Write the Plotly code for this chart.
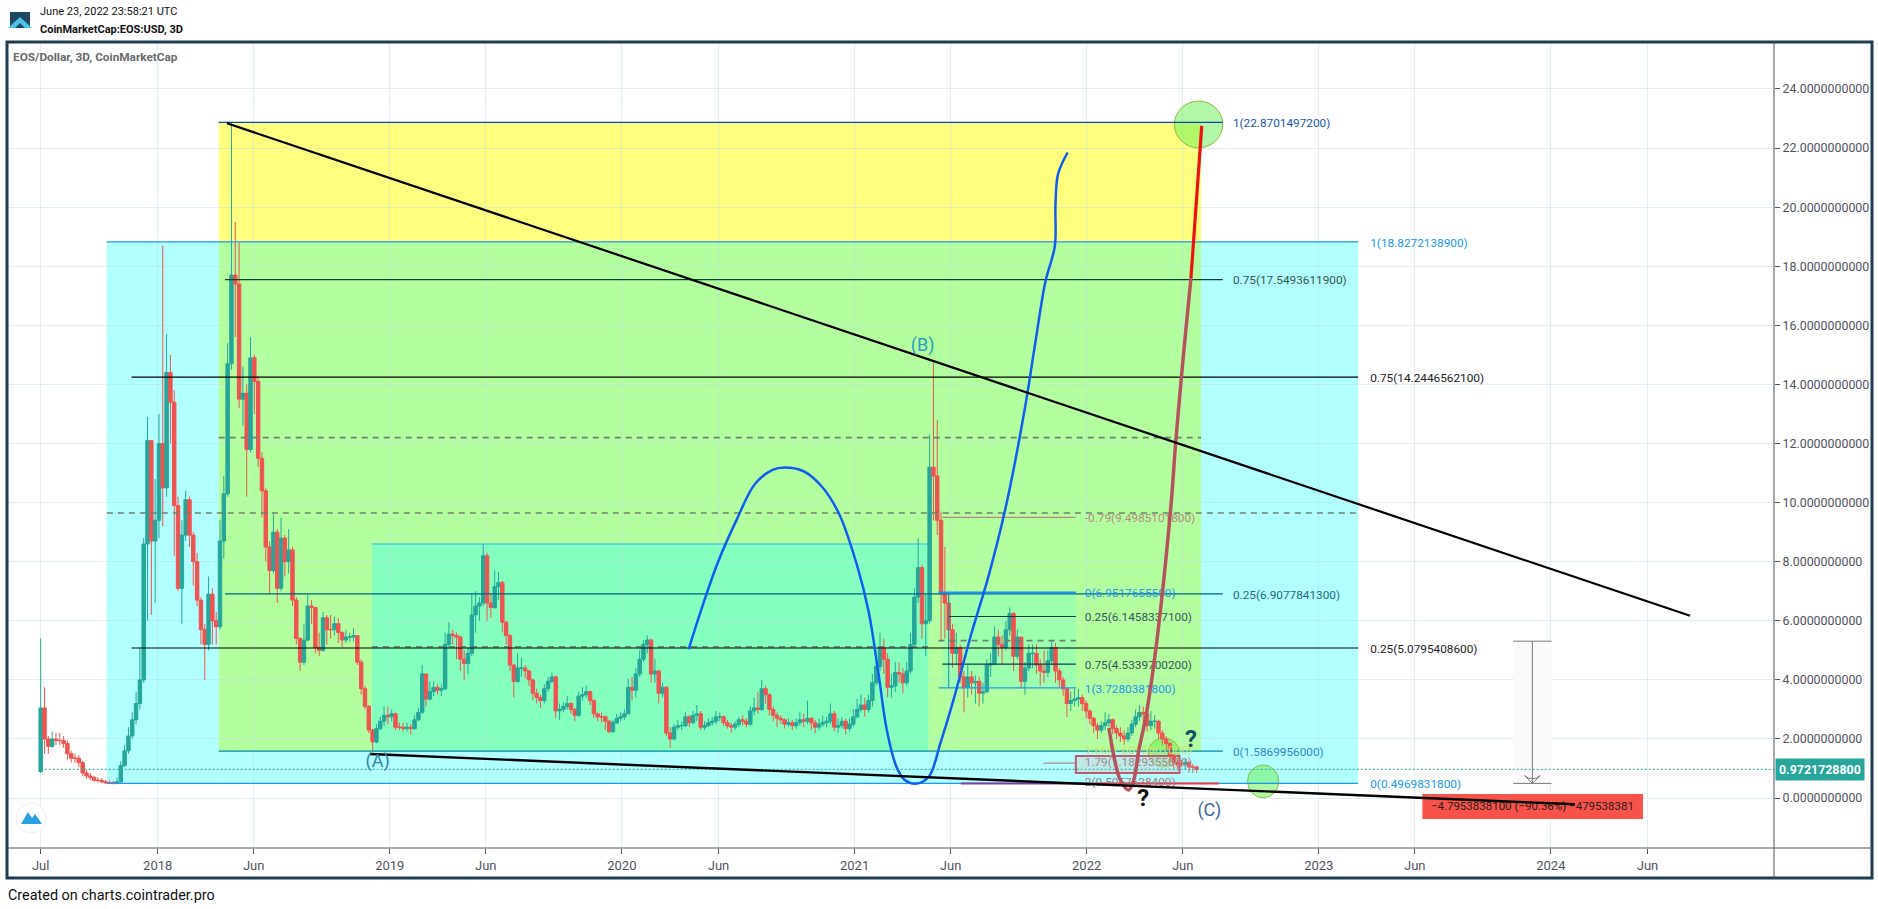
import pandas as pd
import plotly.graph_objects as go

# ---------- DATA ----------
closes = [3.05,2.0,1.75,2.0,1.95,1.95,1.85,1.5,1.35,1.35,
1.2,.85,.75,.7,.6,.6,.55,.52,.52,.5,
.55,1.1,1.6,2.1,2.65,3.2,4.0,8.6,12.1,8.7,
9.4,12.0,10.5,14.4,13.4,9.9,7.1,8.9,10.1,8.9,
8.0,6.7,5.7,5.2,6.9,6.0,5.8,8.7,10.3,14.7,
17.7,17.4,13.5,13.7,11.8,14.9,14.1,11.5,10.4,8.5,
7.7,9.0,7.1,8.8,8.0,8.4,6.7,5.4,4.6,5.35,
6.5,6.45,5.1,5.0,6.1,5.7,5.7,5.9,5.6,5.35,
5.45,5.45,5.5,4.6,3.7,3.1,2.3,1.9,2.35,2.6,
2.8,2.75,2.85,2.4,2.4,2.35,2.4,2.35,2.65,2.9,
4.2,3.35,3.6,3.75,3.65,3.7,5.2,5.55,5.5,5.45,
4.7,4.55,4.9,6.2,6.5,6.6,8.2,6.6,6.45,7.15,
7.3,5.95,5.5,4.5,3.95,4.4,4.4,4.3,4.0,3.55,
3.4,3.3,3.7,3.95,4.1,2.95,3.0,3.1,3.2,3.0,
2.8,3.45,3.5,3.6,3.3,2.85,2.75,2.75,2.6,2.25,
2.55,2.7,2.75,2.85,3.75,3.65,4.2,4.7,5.2,5.35,
4.2,4.3,3.55,3.75,2.2,2.0,2.4,2.45,2.45,2.75,
2.55,2.8,2.85,2.4,2.45,2.55,2.6,2.75,2.75,2.55,
2.45,2.4,2.5,2.65,2.6,2.5,2.95,3.05,3.0,3.7,
3.5,3.0,2.8,2.7,2.65,2.5,2.55,2.45,2.55,2.65,
2.6,2.7,2.55,2.4,2.5,2.55,2.6,2.85,2.4,2.45,
2.6,2.35,2.5,2.75,3.0,3.15,3.0,3.3,3.9,4.45,
5.1,4.7,3.75,3.8,4.25,4.2,3.9,4.3,5.2,6.8,
7.8,5.9,6.0,11.2,10.9,9.4,6.9,6.6,5.7,4.9,
5.1,4.1,3.75,4.1,3.9,3.95,3.55,3.6,4.5,4.55,
5.45,5.2,5.1,5.7,6.25,4.8,5.45,3.95,4.4,4.9,
4.9,4.5,4.3,4.25,4.65,5.1,4.3,4.0,3.7,3.2,
3.3,3.35,3.4,3.2,2.95,2.7,2.45,2.3,2.45,2.55,
2.65,2.35,2.2,2.1,2.0,2.2,2.5,2.75,2.9,2.85,
2.45,2.6,2.6,2.2,2.0,1.85,1.45,1.2,1.15,1.15,
1.2,1.05,1.05,.972]
highs = [5.4,3.75,2.1,2.25,2.2,2.2,2.1,1.95,1.6,1.5,
1.45,1.25,.95,.85,.75,.7,.68,.62,.6,.58,
.7,1.25,1.8,2.4,2.9,3.6,5.1,8.8,12.9,11.0,
10.8,13.0,18.7,15.7,15.0,13.8,10.2,9.4,10.4,10.2,
9.0,8.3,6.8,5.9,7.5,7.1,6.3,9.4,10.9,15.4,
22.87,19.5,18.8,14.6,14.0,15.6,15.0,14.3,11.7,10.5,
8.7,9.6,9.1,9.5,8.9,9.1,8.5,6.8,5.45,5.9,
6.9,6.7,6.45,5.6,6.3,6.2,6.2,6.15,6.1,5.65,
5.7,5.6,5.75,5.5,4.7,3.8,3.15,2.35,2.5,2.75,
3.1,3.1,3.0,2.9,2.55,2.55,2.55,2.5,2.8,3.05,
4.5,4.2,3.95,3.95,3.85,3.85,5.6,5.95,5.7,5.6,
5.5,5.0,5.1,6.9,7.0,6.8,8.6,8.3,6.9,7.7,
7.65,7.35,6.0,5.55,4.55,4.9,4.75,4.5,4.35,4.05,
3.7,3.5,3.85,4.1,4.25,4.15,3.2,3.25,3.45,3.25,
3.05,3.6,3.75,3.8,3.65,3.35,2.9,2.9,2.8,2.65,
2.65,2.85,2.9,3.0,4.05,4.1,4.4,5.0,5.35,5.5,
5.4,4.7,4.35,3.9,3.8,2.4,2.5,2.65,2.6,2.9,
2.8,2.95,3.15,2.95,2.6,2.7,2.75,2.95,2.9,2.8,
2.65,2.55,2.6,2.75,2.8,2.7,3.1,3.4,3.6,4.0,
3.8,3.55,3.1,2.9,2.8,2.7,2.7,2.65,2.7,2.9,
2.85,3.3,2.75,2.65,2.7,2.8,2.75,3.2,2.95,2.7,
2.75,2.7,2.7,3.0,3.35,3.5,3.4,3.5,4.2,4.9,
5.6,5.4,4.9,4.2,4.6,4.6,4.4,4.6,5.6,7.1,
8.8,7.9,6.9,12.3,14.75,12.8,9.7,8.5,6.95,5.9,
5.6,5.2,4.3,4.5,4.3,4.15,4.1,3.9,4.7,4.9,
5.8,5.7,5.5,6.0,6.45,6.3,5.7,5.45,4.6,5.2,
5.2,5.2,4.7,5.0,5.0,5.35,5.25,4.4,4.1,3.75,
3.6,3.7,3.7,3.5,3.3,3.0,2.75,2.55,2.6,2.9,
2.85,2.7,2.45,2.4,2.3,2.4,2.65,3.0,3.15,3.1,
2.9,2.95,2.8,2.65,2.3,2.1,1.9,1.5,1.3,1.3,
1.35,1.25,1.15,1.1]
lows = [.85,1.5,1.5,1.7,1.8,1.8,1.7,1.3,1.2,1.2,
1.05,.75,.65,.6,.55,.52,.5,.48,.47,.46,
.47,.5,1.05,1.5,2.0,2.5,3.0,3.9,6.0,6.2,
6.6,8.8,9.2,10.2,12.0,8.2,7.0,5.9,8.7,8.5,
7.2,6.5,5.2,4.0,5.0,5.2,5.2,5.7,8.1,10.2,
14.5,15.6,13.2,12.6,10.2,11.7,13.0,11.2,9.5,8.0,
6.9,7.6,6.6,7.0,7.5,7.6,6.5,5.2,4.3,4.5,
5.3,5.9,4.9,4.8,4.95,5.2,5.4,5.5,5.25,5.1,
5.25,5.3,5.3,4.5,3.5,3.0,2.2,1.6,1.85,2.3,
2.45,2.5,2.6,2.3,2.3,2.25,2.25,2.15,2.3,2.6,
2.85,3.1,3.3,3.45,3.5,3.45,3.65,5.1,5.2,4.7,
4.3,4.0,4.2,4.8,5.6,6.0,6.5,6.0,6.1,6.4,
6.7,5.6,5.2,4.3,3.4,3.9,4.1,4.05,3.8,3.3,
3.2,3.05,3.2,3.6,3.9,2.7,2.65,2.9,3.0,2.85,
2.6,2.75,3.3,3.4,3.15,2.7,2.6,2.55,2.3,2.2,
2.2,2.5,2.6,2.65,2.85,3.3,3.4,4.1,4.6,4.9,
3.9,3.9,3.2,3.4,2.1,1.7,1.95,2.3,2.3,2.4,
2.4,2.5,2.6,2.3,2.3,2.4,2.45,2.5,2.6,2.45,
2.35,2.2,2.3,2.4,2.45,2.4,2.45,2.8,2.85,2.95,
3.2,2.8,2.6,2.4,2.5,2.35,2.4,2.3,2.35,2.45,
2.4,2.5,2.3,2.2,2.3,2.4,2.4,2.5,2.25,2.2,
2.35,2.15,2.25,2.4,2.7,2.9,2.75,2.9,3.1,3.8,
4.3,4.2,3.4,3.4,3.6,3.9,3.55,3.8,4.2,5.1,
6.6,5.4,4.8,5.9,9.4,8.9,5.3,5.4,5.0,4.4,
4.5,3.9,2.9,3.4,3.5,3.2,3.1,3.2,3.55,4.1,
4.5,4.8,4.5,5.0,5.5,4.3,4.7,3.7,3.5,4.3,
4.4,4.2,3.8,3.9,4.1,4.5,3.9,3.75,3.45,2.75,
2.95,3.1,3.1,2.95,2.7,2.5,2.2,2.0,2.2,2.3,
2.4,2.15,2.0,1.9,1.8,1.9,2.1,2.4,2.6,2.5,
2.25,2.3,2.35,2.0,1.8,1.6,1.2,1.0,1.0,1.05,
.95,.85,.85,.85]
first_open = 0.9
candle_start = "2017-07-01"
candle_step_days = 6
last_price = 0.9721728800

y_ticks = [0,2,4,6,8,10,12,14,16,18,20,22,24]
x_tick_dates = ["2017-07-01","2018-01-01","2018-06-01","2019-01-01","2019-06-01","2020-01-01","2020-06-01","2021-01-01","2021-06-01","2022-01-01","2022-06-01","2023-01-01","2023-06-01","2024-01-01","2024-06-01"]
x_tick_text = ["Jul","2018","Jun","2019","Jun","2020","Jun","2021","Jun","2022","Jun","2023","Jun","2024","Jun"]

# filled zones: start, end, low, high, colour
zone_x0 = ["2017-10-13","2022-06-30","2018-04-07","2018-04-07","2018-04-07","2018-12-04","2021-05-20"]
zone_x1 = ["2018-04-07","2023-03-04","2022-06-30","2022-06-30","2022-06-30","2021-04-27","2021-12-15"]
zone_y0 = [0.4969831800,0.4969831800,0.4969831800,18.8272138900,1.5869956000,1.5869956000,3.7280381800]
zone_y1 = [18.8272138900,18.8272138900,1.5869956000,22.8701497200,18.8272138900,8.6,6.9517655500]
zone_color = ["#b2ffff","#b2ffff","#b2ffff","#ffff7f","#b3ff9f","#85ffbe","#9cffae"]

# fib levels
lvl_value = [18.8272138900,14.2446562100,5.0795408600,0.4969831800,
             22.8701497200,17.5493611900,6.9077841300,1.5869956000,
             6.9517655500,6.1458337100,4.5339700200,3.7280381800,9.4985101800]
lvl_start = ["2017-10-13","2017-11-21","2017-11-21","2017-10-13",
             "2018-04-07","2018-04-17","2018-04-17","2018-04-07",
             "2021-05-13","2021-05-29","2021-05-19","2021-05-13","2021-05-19"]
lvl_end = ["2023-03-04"]*4 + ["2022-08-03"]*4 + ["2021-12-15"]*5
lvl_label_x = ["2023-03-23"]*4 + ["2022-08-19"]*4 + ["2021-12-29"]*5
lvl_text = ["1(18.8272138900)","0.75(14.2446562100)","0.25(5.0795408600)","0(0.4969831800)",
            "1(22.8701497200)","0.75(17.5493611900)","0.25(6.9077841300)","0(1.5869956000)",
            "0(6.9517655500)","0.25(6.1458337100)","0.75(4.5339700200)","1(3.7280381800)","-0.79(9.4985101800)"]
lvl_line_color = ["#2196f3","#000000","#000000","#2196f3",
                  "#0d47b0","#0b3d36","#00607f","#0088aa",
                  "#1b8fe8","#0b3d46","#0b3d46","#2196f3","#b58a80"]
lvl_text_color = ["#2196f3","#222222","#222222","#2196f3",
                  "#1c54ad","#2f5a4c","#2b6a7c","#2c8ac8",
                  "#2196f3","#33575a","#33575a","#2196f3","#b48a80"]
lvl_width = [1.3,1.2,1.2,1.3,1.3,1.2,1.2,1.2,2.2,1.2,1.2,1.3,1.2]

# dashed mid-levels
dash_value = [12.2,9.65,5.12,5.33]
dash_start = ["2018-04-07","2017-10-13","2018-12-04","2021-05-13"]
dash_end = ["2022-06-30","2023-03-04","2021-04-27","2021-12-15"]

# inner box top edge
inner_top_x = ["2018-12-04","2021-04-27"]
inner_top_y = [8.6,8.6]

# hand-drawn blue curve
blue_x = ["2020-04-15","2020-05-04","2020-06-01","2020-06-30","2020-07-28","2020-08-25","2020-09-13","2020-10-12","2020-11-09","2020-12-07","2021-01-04","2021-01-23","2021-02-07","2021-02-21","2021-03-08","2021-03-21","2021-04-09","2021-04-28","2021-05-16","2021-06-05","2021-07-03","2021-07-31","2021-08-28","2021-09-26","2021-10-11","2021-10-28","2021-11-12","2021-11-13","2021-11-17","2021-12-02"]
blue_y = [5.03,6.32,8.03,9.44,10.62,11.11,11.19,11.07,10.58,9.65,7.94,6.32,4.30,2.27,1.05,.61,.49,.73,1.86,3.28,5.51,7.54,9.97,13.21,15.24,17.47,18.69,20.1,21.12,21.85]
# brown curve and red extension
brown_x = ["2022-02-05","2022-02-14","2022-02-23","2022-03-08","2022-03-16","2022-03-24","2022-04-04","2022-04-20","2022-05-13","2022-05-21","2022-05-30","2022-06-06","2022-06-14"]
brown_y = [2.37,1.29,.61,.27,.61,1.62,2.74,5.08,9.75,12.02,14.25,15.84,17.6]
red_x = ["2022-06-14","2022-07-01"]
red_y = [17.6,22.75]

# straight trend lines
top_trend_x = ["2018-04-20","2024-08-07"]
top_trend_y = [22.84,6.17]
low_trend_x = ["2018-12-01","2024-02-08"]
low_trend_y = [1.49,-0.21]

# ellipses
circ_x0 = ["2022-05-19","2022-04-08","2022-09-11"]
circ_x1 = ["2022-08-03","2022-05-27","2022-10-30"]
circ_y0 = [22.01,1.05,0.01]
circ_y1 = [23.59,2.03,1.12]

# wave labels
mark_x = ["2018-12-13","2021-04-18","2022-07-13","2022-06-14","2022-03-31"]
mark_y = [1.22,15.27,-0.47,1.93,-0.07]
mark_text = ["(A)","(B)","(C)","<b>?</b>","<b>?</b>"]
mark_color = ["#2f85ad","#2aa0c0","#3a6a9a","#0f4f5f","#111111"]
mark_size = [18,18,18,24,24]

# small extension labels
note_x = ["2021-12-29","2021-12-29","2021-12-29"]
note_y = [1.6,1.1829355,0.5052908]
note_text = ["1.66(1.6095801000)","1.79(1.1829355000)","2(0.5057628400)"]
note_color = ["#c9e36a","#a08a8a","#a07a7a"]

# measure tool
meas_x0, meas_x1, meas_xc = "2023-11-03", "2024-01-02", "2023-12-03"
meas_top, meas_bottom = 5.31, 0.497
meas_box_x0, meas_box_x1, meas_box_y0, meas_box_y1 = "2023-06-13", "2024-05-25", -0.71, 0.135
meas_text = "−4.7953838100 (−90.36%) −479538381"
meas_text_y = -0.3

# ---------- LAYOUT HELPERS ----------
W, H = 1878, 909
PL, PR, PT, PB = 7, 1774, 42, 848
def px(x): return (x - PL) / (PR - PL)
def py(y): return 1 - (y - PT) / (PB - PT)
FONT = "Roboto"
LABEL_NUDGE = 0.06

dates = pd.date_range(candle_start, periods=len(closes), freq=f"{candle_step_days}D")
opens = [first_open] + closes[:-1]

fig = go.Figure()
fig.add_trace(go.Candlestick(
    x=dates, open=opens, high=highs, low=lows, close=closes,
    increasing=dict(line=dict(color="#26a69a", width=1), fillcolor="#26a69a"),
    decreasing=dict(line=dict(color="#ef5350", width=1), fillcolor="#ef5350"),
    whiskerwidth=0, hoverinfo="skip", showlegend=False))

def line(x, y, color, width=1.2, dash=None, shape="linear"):
    fig.add_trace(go.Scatter(x=x, y=y, mode="lines", showlegend=False, hoverinfo="skip",
                             line=dict(color=color, width=width, dash=dash, shape=shape)))

for v, a, b in zip(dash_value, dash_start, dash_end):
    line([a, b], [v, v], "#6d7f72", 1.6, "6px,5px")

line(inner_top_x, inner_top_y, "#1fb6f0", 1.2)
line([lvl_start[9], lvl_start[9]], [6.9077841300, 3.7280381800], "#2a8f96", 1.0)
for v, a, b, c, w in zip(lvl_value, lvl_start, lvl_end, lvl_line_color, lvl_width):
    line([a, b], [v, v], c, w)
line(["2021-06-17", "2022-01-10"], [0.49, 0.49], "#7b3fa0", 2)
line(["2022-01-10", "2022-07-28"], [0.49, 0.49], "#ee3344", 2)

line([candle_start, "2024-12-17"], [last_price, last_price], "#26a69a", 1, "2px,2px")
line(["2021-10-25", "2021-12-15"], [1.1829355, 1.1829355], "#b06a70", 1)

fig.add_trace(go.Scatter(x=lvl_label_x, y=[v - LABEL_NUDGE for v in lvl_value], text=lvl_text, mode="text", textposition="middle right",
                         textfont=dict(family=FONT, size=11.8, color=lvl_text_color), showlegend=False, hoverinfo="skip"))
fig.add_trace(go.Scatter(x=note_x, y=note_y, text=note_text, mode="text", textposition="middle right",
                         textfont=dict(family=FONT, size=11.8, color=note_color), showlegend=False, hoverinfo="skip"))
fig.add_trace(go.Scatter(x=[meas_xc], y=[meas_text_y], text=[meas_text], mode="text", textposition="middle center",
                         textfont=dict(family=FONT, size=11.5, color="#2a1a1a"), showlegend=False, hoverinfo="skip"))

line(blue_x, blue_y, "#0f5cf0", 2.5, shape="spline")
line(brown_x, brown_y, "#b5525c", 3.5, shape="spline")
line(red_x, red_y, "#ee1111", 3.2)
line(top_trend_x, top_trend_y, "#000000", 2.2)
line(low_trend_x, low_trend_y, "#000000", 2.4)

line([meas_xc, meas_xc], [meas_top, meas_bottom], "#777777", 1)
line([meas_x0, meas_x1], [meas_top, meas_top], "#777777", 1)
line([meas_x0, meas_x1], [meas_bottom, meas_bottom], "#777777", 1)
fig.add_trace(go.Scatter(x=[meas_xc], y=[meas_bottom], mode="markers", showlegend=False, hoverinfo="skip",
                         marker=dict(symbol="arrow-wide-open", size=11, angle=180, line=dict(color="#777777", width=1), color="#777777")))

fig.add_trace(go.Scatter(x=mark_x, y=mark_y, text=mark_text, mode="text", textposition="middle center",
                         textfont=dict(family=FONT, size=mark_size, color=mark_color), showlegend=False, hoverinfo="skip"))

shapes = []
for a, b, c, d, col in zip(zone_x0, zone_x1, zone_y0, zone_y1, zone_color):
    shapes.append(dict(type="rect", layer="below", xref="x", yref="y", x0=a, x1=b, y0=c, y1=d,
                       fillcolor=col, line=dict(width=0)))
for a, b, c, d in zip(circ_x0, circ_x1, circ_y0, circ_y1):
    shapes.append(dict(type="circle", layer="between", xref="x", yref="y", x0=a, x1=b, y0=c, y1=d,
                       fillcolor="rgba(100,240,80,0.5)", line=dict(color="#8fb83a", width=1)))
shapes.append(dict(type="rect", layer="between", xref="x", yref="y", x0="2021-12-15", x1="2022-05-27", y0=0.85, y1=1.42,
                   fillcolor="rgba(200,215,215,0.55)", line=dict(color="#c0596a", width=2)))
shapes.append(dict(type="rect", layer="between", xref="x", yref="y", x0=meas_x0, x1=meas_x1, y0=meas_bottom, y1=meas_top,
                   fillcolor="#fafafa", line=dict(width=0)))
shapes.append(dict(type="rect", layer="between", xref="x", yref="y", x0=meas_box_x0, x1=meas_box_x1, y0=meas_box_y0, y1=meas_box_y1,
                   fillcolor="#f7534a", line=dict(width=0)))
shapes.append(dict(type="rect", layer="above", xref="paper", yref="paper", x0=px(7), x1=px(1872), y0=py(42), y1=py(878),
                   line=dict(color="#1f3d50", width=3)))
shapes.append(dict(type="line", layer="above", xref="paper", yref="paper", x0=px(1774), x1=px(1774), y0=py(42), y1=py(878),
                   line=dict(color="#50535e", width=1)))
shapes.append(dict(type="line", layer="above", xref="paper", yref="paper", x0=px(7), x1=px(1872), y0=py(848), y1=py(848),
                   line=dict(color="#50535e", width=1)))
shapes.append(dict(type="rect", layer="above", xref="paper", yref="paper", x0=px(10), x1=px(30), y0=py(12), y1=py(28),
                   fillcolor="#1f4860", line=dict(width=0)))
shapes.append(dict(type="path", layer="above", xref="paper", yref="paper",
                   path=f"M {px(8)} {py(28)} L {px(20)} {py(17)} L {px(32)} {py(28)} L {px(25)} {py(28)} L {px(20)} {py(23)} L {px(15)} {py(28)} Z",
                   fillcolor="#4cc3e8", line=dict(width=0)))
shapes.append(dict(type="circle", layer="above", xref="paper", yref="paper", x0=px(16), x1=px(46), y0=py(803), y1=py(833),
                   fillcolor="#ffffff", line=dict(color="#e8eef2", width=1)))
shapes.append(dict(type="path", layer="above", xref="paper", yref="paper",
                   path=f"M {px(21)} {py(824)} L {px(28)} {py(812)} L {px(32)} {py(818)} L {px(35)} {py(814)} L {px(42)} {py(824)} Z",
                   fillcolor="#2a9fe0", line=dict(width=0)))

annotations = [
    dict(xref="paper", yref="paper", x=px(38), y=py(12), text="June 23, 2022 23:58:21 UTC", showarrow=False, xanchor="left", yanchor="middle",
         font=dict(family=FONT, size=11, color="#111111")),
    dict(xref="paper", yref="paper", x=px(38), y=py(29), text="<b>CoinMarketCap:EOS:USD, 3D</b>", showarrow=False, xanchor="left", yanchor="middle",
         font=dict(family=FONT, size=11, color="#111111")),
    dict(xref="paper", yref="paper", x=px(11), y=py(57), text="<b>EOS/Dollar, 3D, CoinMarketCap</b>", showarrow=False, xanchor="left", yanchor="middle",
         font=dict(family=FONT, size=11.8, color="#6a6a6a")),
    dict(xref="paper", yref="paper", x=px(6), y=py(895), text="Created on charts.cointrader.pro", showarrow=False, xanchor="left", yanchor="middle",
         font=dict(family=FONT, size=14.4, color="#111111")),
    dict(xref="paper", yref="y", x=px(1775), y=last_price, text=f"<b>{last_price:.10f}</b>", showarrow=False, xanchor="left", yanchor="middle",
         bgcolor="#26a69a", borderpad=3, font=dict(family=FONT, size=12.4, color="#ffffff")),
]

fig.update_layout(
    width=W, height=H, autosize=False,
    margin=dict(l=PL, r=W - PR, t=PT, b=H - PB, pad=0),
    paper_bgcolor="#ffffff", plot_bgcolor="#ffffff",
    boxgap=0.05, boxgroupgap=0.05, showlegend=False,
    shapes=shapes, annotations=annotations,
    font=dict(family=FONT),
    xaxis=dict(type="date", range=["2017-05-09", "2024-12-17"], rangeslider=dict(visible=False),
               tickmode="array", tickvals=x_tick_dates, ticktext=x_tick_text,
               showgrid=True, gridcolor="rgba(190,215,232,0.45)", gridwidth=1, zeroline=False,
               ticks="outside", ticklen=5, tickcolor="#50535e", showline=False,
               tickfont=dict(family=FONT, size=13, color="#50535e")),
    yaxis=dict(range=[-1.69, 25.59], side="right", tickmode="array", tickvals=y_ticks,
               ticktext=[f"{v:.10f}" for v in y_ticks],
               showgrid=True, gridcolor="rgba(190,215,232,0.45)", gridwidth=1, zeroline=False,
               ticks="outside", ticklen=5, tickcolor="#50535e", showline=False,
               tickfont=dict(family=FONT, size=12.4, color="#50535e")),
)

fig.write_html("out.html", config={"displayModeBar": False},
               post_script="document.body.style.margin='0';document.body.style.overflow='hidden';")
